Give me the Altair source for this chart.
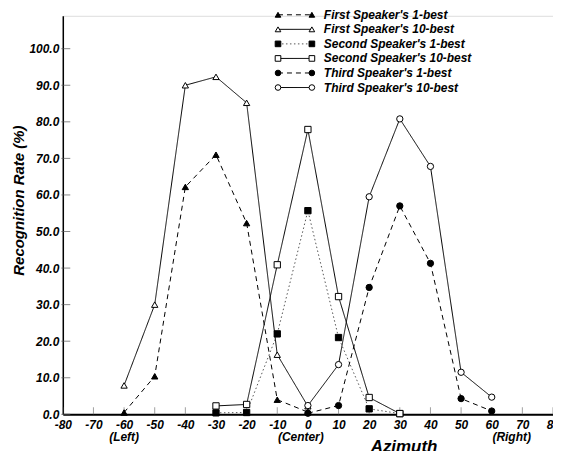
import altair as alt
import pandas as pd

# ---------------- data ----------------
series_names = [
    "First Speaker's 1-best",
    "First Speaker's 10-best",
    "Second Speaker's 1-best",
    "Second Speaker's 10-best",
    "Third Speaker's 1-best",
    "Third Speaker's 10-best",
]

first_x = [-60, -50, -40, -30, -20, -10, 0]
first_1best = [0.5, 10.4, 62.2, 71.0, 52.3, 4.0, 0.6]
first_10best = [7.9, 30.0, 90.0, 92.3, 85.2, 16.3, 2.2]

second_x = [-30, -20, -10, 0, 10, 20, 30]
second_1best = [0.4, 0.5, 22.0, 55.7, 21.0, 1.5, 0.2]
second_10best = [2.3, 2.7, 40.9, 77.9, 32.2, 4.6, 0.2]

third_x = [0, 10, 20, 30, 40, 50, 60]
third_1best = [0.3, 2.4, 34.7, 57.0, 41.3, 4.3, 0.9]
third_10best = [2.4, 13.6, 59.5, 80.8, 67.8, 11.5, 4.7]

x_ticks = list(range(-80, 81, 10))
y_ticks = list(range(0, 101, 10))
sub_pos = [-60, -2.3, 66.5]
sub_text = ["(Left)", "(Center)", "(Right)"]

# ---------------- tables ----------------
rows = []
for name, xs, ys in [
    (series_names[0], first_x, first_1best),
    (series_names[1], first_x, first_10best),
    (series_names[2], second_x, second_1best),
    (series_names[3], second_x, second_10best),
    (series_names[4], third_x, third_1best),
    (series_names[5], third_x, third_10best),
]:
    for xv, yv in zip(xs, ys):
        rows.append({"series": name, "azimuth": xv, "rate": yv})
df = pd.DataFrame(rows)

legend_df = pd.DataFrame(
    [{"series": s, "side": side} for s in series_names for side in (0, 1)]
)
legend_txt = pd.DataFrame({"series": series_names})
sub_df = pd.DataFrame({"azimuth": sub_pos, "label": sub_text})

FONT = "Liberation Sans"

shape_scale = alt.Scale(domain=series_names,
                        range=["triangle-up", "triangle-up", "square", "square", "circle", "circle"])
fill_scale = alt.Scale(domain=series_names,
                       range=["black", "white", "black", "white", "black", "white"])
dash_scale = alt.Scale(domain=series_names,
                       range=[[5, 4], [1, 0], [1.5, 2.5], [1, 0], [5, 4], [1, 0]])
color_scale = alt.Scale(domain=series_names,
                        range=["black", "black", "#555555", "black", "black", "black"])

x_scale = alt.Scale(domain=[-80, 80], nice=False, zero=False)
y_scale = alt.Scale(domain=[0, 109], nice=False)

x_axis = alt.Axis(
    values=x_ticks, tickSize=0, grid=False, labelFlush=False, labelOverlap=False,
    labelFont=FONT, labelFontSize=12, labelFontStyle="italic", labelFontWeight="bold",
    labelColor="black", labelPadding=5, labelExpr="'' + datum.value",
    domainColor="black", domainWidth=2,
    title="Azimuth", titleFont=FONT, titleFontSize=17, titleFontStyle="italic",
    titleFontWeight="bold", titleColor="black", titleX=342, titleY=32,
    titleBaseline="middle", titleAlign="center", titleAnchor="start",
)
y_axis = alt.Axis(
    values=y_ticks, tickSize=0, grid=False, format=".1f", labelOverlap=False,
    labelFont=FONT, labelFontSize=12, labelFontStyle="italic", labelFontWeight="bold",
    labelColor="black", labelPadding=4,
    domainColor="black", domainWidth=1.5,
    title="Recognition Rate (%)", titleFont=FONT, titleFontSize=15,
    titleFontStyle="italic", titleFontWeight="bold", titleColor="black",
    titleX=-44, titleY=185, titleBaseline="middle", titleAlign="center",
    titleAngle=270, titleAnchor="start",
)

base = alt.Chart(df)
lines = base.mark_line(strokeWidth=1).encode(
    x=alt.X("azimuth:Q", scale=x_scale, axis=x_axis),
    y=alt.Y("rate:Q", scale=y_scale, axis=y_axis),
    detail="series:N",
    strokeDash=alt.StrokeDash("series:N", scale=dash_scale, legend=None),
    color=alt.Color("series:N", scale=color_scale, legend=None),
)
points = base.mark_point(filled=True, size=40, stroke="black", strokeWidth=1, opacity=1).encode(
    x=alt.X("azimuth:Q", scale=x_scale, axis=x_axis),
    y=alt.Y("rate:Q", scale=y_scale, axis=y_axis),
    shape=alt.Shape("series:N", scale=shape_scale, legend=None),
    fill=alt.Fill("series:N", scale=fill_scale, legend=None),
)

xt = alt.Chart(pd.DataFrame({"azimuth": x_ticks})).mark_tick(
    orient="vertical", size=7, thickness=1, color="#777777", yOffset=-3.5
).encode(x=alt.X("azimuth:Q", scale=x_scale, axis=x_axis),
         y=alt.Y(datum=0, scale=y_scale, axis=y_axis))
yt = alt.Chart(pd.DataFrame({"rate": y_ticks})).mark_tick(
    orient="horizontal", size=9, thickness=1, color="#555555", xOffset=3
).encode(y=alt.Y("rate:Q", scale=y_scale, axis=y_axis),
         x=alt.X(datum=-80, scale=x_scale, axis=x_axis))

sub = alt.Chart(sub_df).mark_text(
    align="center", baseline="middle", dy=23, font=FONT, fontSize=12,
    fontStyle="italic", fontWeight="bold", color="black"
).encode(x=alt.X("azimuth:Q", scale=x_scale, axis=x_axis),
         y=alt.Y(datum=0, scale=y_scale, axis=y_axis),
         text="label:N")

main = alt.layer(lines, xt, yt, points, sub)

leg_scale_x = alt.Scale(domain=[0, 1], range=[216, 250])
leg_x = alt.X("side:Q", scale=leg_scale_x, axis=None)
leg_y = alt.Y("series:N", scale=alt.Scale(type="point", domain=series_names, range=[-1, 72], padding=0),
              axis=None)
leg_lines = alt.Chart(legend_df).mark_line(strokeWidth=1).encode(
    x=leg_x, y=leg_y, detail="series:N",
    strokeDash=alt.StrokeDash("series:N", scale=dash_scale, legend=None),
    color=alt.Color("series:N", scale=color_scale, legend=None),
)
leg_points = alt.Chart(legend_df).mark_point(filled=True, size=32, stroke="black", strokeWidth=1, opacity=1).encode(
    x=leg_x, y=leg_y,
    shape=alt.Shape("series:N", scale=shape_scale, legend=None),
    fill=alt.Fill("series:N", scale=fill_scale, legend=None),
)
leg_text = alt.Chart(legend_txt).mark_text(
    align="left", baseline="middle", dx=12, font=FONT, fontSize=12,
    fontStyle="italic", fontWeight="bold", color="black"
).encode(x=alt.X(datum=1, scale=leg_scale_x, axis=None),
         y=leg_y, text="series:N")

legend = alt.layer(leg_lines, leg_points, leg_text)

chart = alt.layer(main, legend).resolve_scale(x="independent", y="independent").properties(
    width=492, height=400,
    autosize=alt.AutoSizeParams(type="none"),
    padding={"left": 55, "top": 7, "right": 0, "bottom": 36},
).configure_view(stroke=None).configure_axis(labelOverlap=False).configure(background="white")

chart.save("out.html", embed_options={"renderer": "svg", "actions": False})
